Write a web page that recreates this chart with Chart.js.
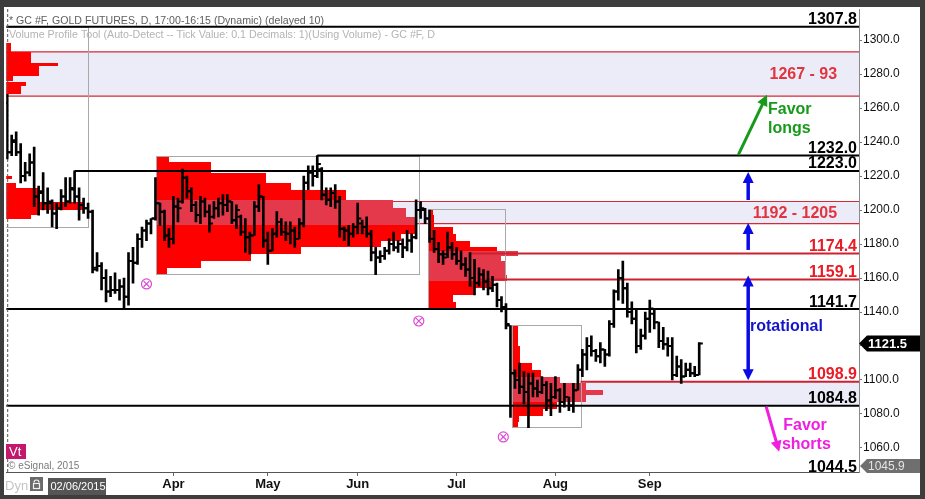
<!DOCTYPE html>
<html>
<head>
<meta charset="utf-8">
<script src="https://cdn.jsdelivr.net/npm/chart.js@4.4.1/dist/chart.umd.min.js"></script>
<style>
  html, body { margin: 0; padding: 0; background: #3d3d3d; }
  canvas { display: block; }
</style>
</head>
<body>
<canvas id="goldChart" width="925" height="499"></canvas>
<script>
// daily bars, Feb 6 - Sep 16 2015 (index 0 = Feb 6)
const opens = [
  1263,1234,1240,1234,1220,1222,1228,1208,1210,1204,
  1204,1198,1201,1208,1205,1212,1208,1203,1201,1199,
  1166,1167,1160,1152,1153,1153,1155,1149,1170,1169,
  1183,1188,1192,1195,1204,1199,1185,1183,1202,1205,
  1219,1211,1203,1197,1205,1199,1196,1201,1204,1203,
  1205,1194,1196,1187,1184,1185,1202,1208,1182,1176,
  1186,1193,1187,1186,1188,1183,1192,1216,1222,1220,
  1224,1209,1206,1210,1205,1189,1188,1186,1190,1192,
  1190,1186,1175,1172,1173,1176,1180,1178,1180,1178,
  1182,1184,1200,1200,1195,1183,1177,1174,1174,1178,
  1174,1170,1168,1165,1160,1157,1162,1158,1154,1156,
  1147,1143,1132,1104,1100,1096,1093,1098,1095,1093,
  1097,1088,1090,1094,1087,1090,1085,1094,1106,1115,
  1120,1117,1114,1118,1115,1133,1152,1160,1154,1140,
  1136,1120,1126,1136,1139,1134,1123,1121,1120,1103,
  1108,1102,1106,1104,1103
];
const highs = [
  1268,1244,1246,1239,1228,1233,1237,1214,1222,1213,
  1206,1204,1212,1219,1219,1223,1213,1207,1204,1200,
  1175,1169,1165,1161,1163,1159,1160,1175,1178,1186,
  1190,1194,1195,1219,1204,1200,1189,1208,1207,1224,
  1220,1213,1205,1208,1207,1203,1205,1207,1209,1209,
  1205,1203,1197,1195,1187,1205,1215,1208,1187,1189,
  1199,1195,1193,1193,1190,1195,1220,1226,1226,1232,
  1225,1213,1213,1215,1208,1190,1191,1192,1204,1194,
  1196,1188,1178,1176,1178,1183,1187,1182,1183,1188,
  1186,1206,1205,1201,1200,1188,1181,1176,1187,1181,
  1178,1176,1172,1175,1171,1166,1165,1164,1161,1157,
  1149,1145,1132,1106,1110,1105,1104,1104,1100,1102,
  1099,1098,1102,1095,1098,1090,1098,1109,1118,1125,
  1126,1118,1122,1118,1135,1153,1165,1170,1157,1146,
  1141,1130,1140,1147,1141,1134,1131,1125,1125,1114,
  1112,1110,1110,1108,1122
];
const lows = [
  1230,1232,1232,1216,1217,1220,1202,1197,1200,1198,
  1190,1189,1200,1202,1204,1204,1194,1198,1195,1163,
  1164,1153,1146,1149,1151,1147,1142,1144,1157,1168,
  1178,1182,1186,1194,1191,1182,1178,1180,1193,1204,
  1207,1199,1193,1192,1196,1187,1195,1196,1197,1199,
  1192,1189,1185,1175,1174,1185,1199,1178,1168,1176,
  1184,1185,1182,1180,1178,1183,1190,1212,1214,1219,
  1206,1203,1202,1201,1184,1182,1179,1184,1186,1186,
  1184,1170,1162,1169,1171,1174,1176,1175,1172,1176,
  1175,1183,1195,1192,1181,1175,1169,1168,1172,1171,
  1168,1165,1161,1155,1150,1155,1153,1150,1152,1143,
  1140,1130,1078,1095,1092,1086,1072,1090,1090,1092,
  1082,1079,1089,1081,1084,1082,1081,1094,1102,1106,
  1114,1111,1110,1108,1114,1131,1147,1145,1137,1133,
  1116,1118,1124,1128,1130,1119,1118,1114,1100,1102,
  1098,1102,1102,1102,1103
];
const closes = [
  1234,1241,1234,1220,1222,1228,1208,1211,1204,1205,
  1198,1201,1208,1205,1213,1208,1203,1201,1199,1165,
  1167,1160,1152,1153,1153,1155,1149,1170,1169,1183,
  1188,1192,1195,1204,1199,1185,1183,1202,1201,1219,
  1211,1203,1197,1205,1199,1192,1201,1204,1203,1205,
  1194,1200,1187,1184,1185,1202,1208,1182,1176,1186,
  1193,1187,1186,1188,1183,1192,1216,1222,1220,1227,
  1209,1206,1210,1205,1189,1188,1186,1190,1195,1190,
  1186,1175,1172,1173,1176,1180,1178,1180,1178,1182,
  1184,1200,1201,1195,1183,1177,1174,1172,1178,1174,
  1170,1168,1165,1160,1157,1162,1158,1154,1156,1147,
  1143,1133,1104,1100,1096,1093,1098,1095,1093,1097,
  1088,1085,1094,1087,1090,1085,1094,1106,1115,1120,
  1117,1114,1118,1115,1133,1152,1160,1154,1140,1136,
  1120,1126,1136,1142,1134,1123,1121,1120,1103,1108,
  1102,1106,1104,1103,1121.5
];

const monthTicks = [37, 58, 78, 100, 122, 143];
const monthLabels = ['Apr', 'May', 'Jun', 'Jul', 'Aug', 'Sep'];
const priceTicks = [1060, 1080, 1100, 1120, 1140, 1160, 1180, 1200, 1220, 1240, 1260, 1280, 1300];

// key levels: black lines, red lines, shaded zones (start = bar index where they begin)
const blackLevels = [1307.8, 1232.0, 1223.0, 1141.7, 1084.8];
const blackStarts = [-5, 69, 15, -5, -5];
const redLevels = [1174.4, 1159.1, 1098.9];
const redStarts = [103, 105, 127.6];
const zoneLows = [1267, 1192, 1084.8];
const zoneHighs = [1293, 1205, 1098.9];
const zoneStarts = [-5, 33.1, 127.6];
const zoneNames = ['1267 - 93', '1192 - 1205', ''];

// volume profiles: [price low, price high, right end (bar index), value area flag]
const profFebRows = [
  [1293, 1298, 0.9, 0], [1286.5, 1293, 5.3, 0], [1285, 1286.5, 11.3, 0], [1279, 1285, 7.1, 0],
  [1276, 1279, 1.3, 0], [1273, 1275.5, 4.2, 0], [1268, 1273, 3.1, 0], [1218.5, 1220, 1.1, 0],
  [1213, 1216, 2, 0], [1205, 1213, 6.9, 0], [1200, 1205, 17.1, 0], [1197, 1200, 6.9, 0], [1195, 1197, 5.3, 0]
];
const profAprRows = [
  [1228, 1232, 36, 0], [1222, 1228, 45.3, 0], [1216, 1222, 57.6, 0], [1212, 1216, 63.1, 0],
  [1206, 1212, 75.3, 0], [1201, 1206, 85.8, 1], [1196, 1201, 88.7, 1], [1191, 1196, 90.9, 1],
  [1186, 1191, 91.3, 0], [1182, 1186, 87.6, 0], [1178, 1182, 83.1, 0], [1174, 1178, 65.3, 0],
  [1170, 1174, 54.2, 0], [1166, 1170, 43.1, 0], [1162.4, 1166, 35.6, 0]
];
const profJulRows = [
  [1197, 1200.6, 94.7, 0], [1190, 1197, 95.0, 0], [1186, 1190, 99.1, 0], [1182, 1186, 99.8, 0],
  [1178, 1182, 103.1, 0], [1176, 1178, 109.1, 0], [1173, 1176, 113.6, 1], [1170, 1173, 109.8, 1],
  [1166, 1170, 110.9, 1], [1162, 1166, 110.9, 1], [1158, 1162, 111.3, 1], [1154, 1158, 107.6, 0],
  [1150, 1154, 104.2, 0], [1146, 1150, 99.3, 0], [1141.7, 1146, 99.8, 0]
];
const profAugRows = [
  [1120, 1132.4, 113.6, 0], [1110, 1120, 114.2, 0], [1106, 1110, 116.9, 0], [1102, 1106, 118.7, 0],
  [1098, 1102, 123.1, 1], [1094, 1098, 128.7, 1], [1091, 1094, 132.7, 1], [1087, 1091, 128.7, 1],
  [1083, 1087, 122.4, 0], [1079, 1083, 119.3, 0], [1075, 1079, 113.8, 0], [1072.4, 1075, 113.6, 0]
];
// [anchor index, box end index, box low, box high]
const profBoxes = [
  [-30, 18, 1190, 1307.8],
  [33.1, 91.6, 1162.4, 1232],
  [93.6, 110.7, 1141.7, 1200.6],
  [112.4, 127.8, 1072.4, 1132.4]
];
const profRows = [profFebRows, profAprRows, profJulRows, profAugRows];

const markerIdx = [31.0, 91.6, 110.4];
const markerPrice = [1156.5, 1134.7, 1066.5];

Chart.defaults.font.family = '"Liberation Sans", Arial, sans-serif';

function arrow(ctx, x1, y1, x2, y2, color, w, head, both) {
  const ang = Math.atan2(y2 - y1, x2 - x1);
  const c = Math.cos(ang), s = Math.sin(ang);
  ctx.strokeStyle = color;
  ctx.fillStyle = color;
  ctx.lineWidth = w;
  ctx.beginPath();
  ctx.moveTo(x1 + (both ? c * head * 0.8 : 0), y1 + (both ? s * head * 0.8 : 0));
  ctx.lineTo(x2 - c * head * 0.8, y2 - s * head * 0.8);
  ctx.stroke();
  const tip = (tx, ty, dc, ds) => {
    ctx.beginPath();
    ctx.moveTo(tx, ty);
    ctx.lineTo(tx - head * dc + head * 0.5 * ds, ty - head * ds - head * 0.5 * dc);
    ctx.lineTo(tx - head * dc - head * 0.5 * ds, ty - head * ds + head * 0.5 * dc);
    ctx.closePath();
    ctx.fill();
  };
  tip(x2, y2, c, s);
  if (both) tip(x1, y1, -c, -s);
}

const overlay = {
  id: 'overlay',
  beforeDraw(chart) {
    const { ctx } = chart;
    ctx.save();
    ctx.fillStyle = '#3d3d3d';
    ctx.fillRect(0, 0, chart.width, chart.height);
    ctx.fillStyle = '#ffffff';
    ctx.fillRect(4, 7, 916, 488);
    ctx.restore();
  },
  beforeDatasetsDraw(chart) {
    const { ctx, chartArea: a, scales: { x, y } } = chart;
    ctx.save();
    ctx.beginPath();
    ctx.rect(a.left, a.top, a.right - a.left, a.bottom - a.top);
    ctx.clip();

    // shaded zones
    zoneLows.forEach((lo, i) => {
      const x0 = Math.max(a.left, x.getPixelForValue(zoneStarts[i]));
      const yt = y.getPixelForValue(zoneHighs[i]), yb = y.getPixelForValue(lo);
      ctx.fillStyle = '#ececf9';
      ctx.fillRect(x0, yt, a.right - x0, yb - yt);
      if (i < 2) {
        ctx.strokeStyle = '#d22a38';
        ctx.lineWidth = 1.2;
        ctx.beginPath();
        ctx.moveTo(x0, yt); ctx.lineTo(a.right, yt);
        ctx.moveTo(x0, yb); ctx.lineTo(a.right, yb);
        ctx.stroke();
      }
    });

    // volume profiles
    profBoxes.forEach(([anchor, boxEnd, boxLo, boxHi], k) => {
      const left = Math.round(x.getPixelForValue(anchor));
      profRows[k].forEach(([lo, hi, end, va]) => {
        const t = Math.round(y.getPixelForValue(hi)), b = Math.round(y.getPixelForValue(lo));
        ctx.fillStyle = va ? '#e4394b' : '#ff0000';
        ctx.fillRect(left, t, Math.round(x.getPixelForValue(end)) - left, b - t);
      });
      ctx.strokeStyle = '#a8a8a8';
      ctx.lineWidth = 1;
      const bt = y.getPixelForValue(boxHi), bb = y.getPixelForValue(boxLo);
      ctx.strokeRect(left + 0.5, Math.round(bt) + 0.5,
        Math.round(x.getPixelForValue(boxEnd)) - left, Math.round(bb - bt));
    });

    // red level lines
    redLevels.forEach((v, i) => {
      const yy = y.getPixelForValue(v);
      ctx.strokeStyle = '#cc2230';
      ctx.lineWidth = 2;
      ctx.beginPath();
      ctx.moveTo(x.getPixelForValue(redStarts[i]), yy);
      ctx.lineTo(a.right, yy);
      ctx.stroke();
    });
    // black level lines
    blackLevels.forEach((v, i) => {
      const yy = y.getPixelForValue(v);
      ctx.strokeStyle = '#000';
      ctx.lineWidth = 2;
      ctx.beginPath();
      ctx.moveTo(Math.max(a.left, x.getPixelForValue(blackStarts[i])), yy);
      ctx.lineTo(a.right, yy);
      ctx.stroke();
    });

    // cursor line
    ctx.strokeStyle = '#555';
    ctx.lineWidth = 1;
    ctx.setLineDash([3, 2]);
    ctx.beginPath();
    ctx.moveTo(a.left + 1.5, a.top);
    ctx.lineTo(a.left + 1.5, a.bottom);
    ctx.stroke();
    ctx.setLineDash([]);
    ctx.restore();
  },
  afterDatasetsDraw(chart) {
    const { ctx, chartArea: a, scales: { x, y } } = chart;
    ctx.save();

    // header
    ctx.textAlign = 'left';
    ctx.textBaseline = 'alphabetic';
    ctx.fillStyle = '#5e5e5e';
    ctx.font = '10.6px "Liberation Sans", Arial, sans-serif';
    ctx.fillText('* GC #F, GOLD FUTURES, D, 17:00-16:15 (Dynamic) (delayed 10)', 9, 24);
    ctx.fillStyle = '#b4b4b4';
    ctx.font = '10.7px "Liberation Sans", Arial, sans-serif';
    ctx.fillText('Volume Profile Tool (Auto-Detect -- Tick Value: 0.1 Decimals: 1)(Using Volume) - GC #F, D', 9, 38);

    // level labels on the right edge
    ctx.textAlign = 'right';
    ctx.font = 'bold 16px "Liberation Sans", Arial, sans-serif';
    blackLevels.concat([1044.5]).forEach(v => {
      ctx.fillStyle = '#000';
      ctx.fillText(v.toFixed(1), a.right - 2, y.getPixelForValue(v) - 2.5);
    });
    redLevels.forEach(v => {
      ctx.fillStyle = '#ea1b24';
      ctx.fillText(v.toFixed(1), a.right - 2, y.getPixelForValue(v) - 2.5);
    });
    ctx.textBaseline = 'middle';
    zoneNames.forEach((n, i) => {
      if (!n) return;
      ctx.fillStyle = '#e2343f';
      ctx.fillText(n, x.getPixelForValue(184.7), y.getPixelForValue((zoneLows[i] + zoneHighs[i]) / 2) + 1);
    });

    // arrows
    const ax = x.getPixelForValue(164.9);
    arrow(ctx, ax, y.getPixelForValue(1205.9), ax, y.getPixelForValue(1222.4), '#0a0ae6', 3.5, 11, false);
    arrow(ctx, ax, y.getPixelForValue(1176.5), ax, y.getPixelForValue(1192.4), '#0a0ae6', 3.5, 11, false);
    arrow(ctx, ax, y.getPixelForValue(1099.8), ax, y.getPixelForValue(1161.5), '#0a0ae6', 3.5, 11, true);
    arrow(ctx, x.getPixelForValue(162.7), y.getPixelForValue(1232.4), x.getPixelForValue(169.1), y.getPixelForValue(1267.8), '#169a1a', 3, 11, false);
    arrow(ctx, x.getPixelForValue(168.9), y.getPixelForValue(1084.3), x.getPixelForValue(171.8), y.getPixelForValue(1057.8), '#f01ee0', 3, 11, false);

    // notes
    ctx.textAlign = 'left';
    ctx.textBaseline = 'alphabetic';
    ctx.font = 'bold 16px "Liberation Sans", Arial, sans-serif';
    ctx.fillStyle = '#169a1a';
    ctx.fillText('Favor', x.getPixelForValue(169.3), y.getPixelForValue(1256.5));
    ctx.fillText('longs', x.getPixelForValue(169.3), y.getPixelForValue(1245.5));
    ctx.fillStyle = '#1414c8';
    ctx.fillText('rotational', x.getPixelForValue(165.3), y.getPixelForValue(1128.8));
    ctx.fillStyle = '#f01ee0';
    ctx.fillText('Favor', x.getPixelForValue(172.7), y.getPixelForValue(1070.6));
    ctx.fillText('shorts', x.getPixelForValue(172.4), y.getPixelForValue(1059.5));

    // study tag and copyright
    ctx.fillStyle = '#c2186e';
    ctx.fillRect(6, 444, 20, 15);
    ctx.fillStyle = '#fff';
    ctx.font = '13px "Liberation Sans", Arial, sans-serif';
    ctx.fillText('Vt', 9, 456);
    ctx.fillStyle = '#7a7a7a';
    ctx.font = '10px "Liberation Sans", Arial, sans-serif';
    ctx.fillText('\u00a9 eSignal, 2015', 8, 469);
    ctx.restore();
  },
  afterDraw(chart) {
    const { ctx, chartArea: a, scales: { y } } = chart;
    ctx.save();
    // last price tag
    const yl = y.getPixelForValue(closes[closes.length - 1]);
    ctx.fillStyle = '#000';
    ctx.beginPath();
    ctx.moveTo(a.right, yl);
    ctx.lineTo(a.right + 8, yl - 8);
    ctx.lineTo(920, yl - 8);
    ctx.lineTo(920, yl + 8);
    ctx.lineTo(a.right + 8, yl + 8);
    ctx.closePath();
    ctx.fill();
    ctx.fillStyle = '#fff';
    ctx.font = 'bold 13px "Liberation Sans", Arial, sans-serif';
    ctx.textBaseline = 'middle';
    ctx.textAlign = 'left';
    ctx.fillText(closes[closes.length - 1].toFixed(1), a.right + 9, yl + 1);
    // scale bottom tag
    const yb = a.bottom - 6;
    ctx.fillStyle = '#6f6f6f';
    ctx.beginPath();
    ctx.moveTo(a.right + 1, yb);
    ctx.lineTo(a.right + 8, yb - 7);
    ctx.lineTo(920, yb - 7);
    ctx.lineTo(920, yb + 7);
    ctx.lineTo(a.right + 8, yb + 7);
    ctx.closePath();
    ctx.fill();
    ctx.fillStyle = '#e4e4e4';
    ctx.font = '12px "Liberation Sans", Arial, sans-serif';
    ctx.fillText(y.min.toFixed(1), a.right + 9, yb + 1);

    // bottom-left status items
    ctx.fillStyle = '#c4c4c4';
    ctx.font = '13px "Liberation Sans", Arial, sans-serif';
    ctx.fillText('Dyn', 5, 486);
    ctx.fillStyle = '#6a6a6a';
    ctx.fillRect(30, 477, 13, 14);
    ctx.strokeStyle = '#eee';
    ctx.lineWidth = 1.2;
    ctx.strokeRect(33.5, 483.5, 6, 5);
    ctx.beginPath();
    ctx.arc(36.5, 482.5, 2.5, Math.PI, 0);
    ctx.stroke();
    ctx.fillStyle = '#555';
    ctx.fillRect(48, 478, 58, 17);
    ctx.fillStyle = '#fff';
    ctx.font = '11px "Liberation Sans", Arial, sans-serif';
    ctx.fillText('02/06/2015', 50.5, 487);
    ctx.restore();
  }
};

new Chart(document.getElementById('goldChart'), {
  type: 'bar',
  data: {
    datasets: [
      {
        type: 'bar',
        data: highs.map((h, i) => ({ x: i, y: [lows[i], h] })),
        backgroundColor: '#000',
        barThickness: 2,
        order: 3
      },
      {
        type: 'line',
        data: opens.map((o, i) => ({ x: i - 0.45, y: o })),
        showLine: false,
        pointStyle: 'line',
        pointRadius: 1.6,
        pointBorderWidth: 2,
        borderColor: '#000',
        pointBorderColor: '#000',
        order: 2
      },
      {
        type: 'line',
        data: closes.map((c, i) => ({ x: i + 0.45, y: c })),
        showLine: false,
        pointStyle: 'line',
        pointRadius: 1.6,
        pointBorderWidth: 2,
        borderColor: '#000',
        pointBorderColor: '#000',
        order: 2
      },
      {
        type: 'line',
        data: markerIdx.map((v, i) => ({ x: v, y: markerPrice[i] })),
        showLine: false,
        pointStyle: 'circle',
        pointRadius: 5,
        pointBorderWidth: 1.2,
        borderColor: '#dc4ad8',
        pointBorderColor: '#dc4ad8',
        pointBackgroundColor: 'rgba(0,0,0,0)',
        order: 1
      },
      {
        type: 'line',
        data: markerIdx.map((v, i) => ({ x: v, y: markerPrice[i] })),
        showLine: false,
        pointStyle: 'crossRot',
        pointRadius: 4,
        pointBorderWidth: 1.2,
        borderColor: '#dc4ad8',
        pointBorderColor: '#dc4ad8',
        order: 1
      }
    ]
  },
  options: {
    responsive: false,
    animation: false,
    events: [],
    layout: { padding: { left: 5, top: 9, right: 5, bottom: 4 } },
    plugins: { legend: { display: false }, tooltip: { enabled: false } },
    scales: {
      x: {
        type: 'linear',
        min: -0.22,
        max: 189.56,
        offset: false,
        afterBuildTicks: s => { s.ticks = monthTicks.map(v => ({ value: v })); },
        afterFit: s => { s.height = 23; },
        ticks: {
          autoSkip: false,
          maxRotation: 0,
          padding: 1,
          color: '#111',
          font: { size: 13, weight: 'bold' },
          callback: (v, i) => monthLabels[i]
        },
        grid: { offset: false, drawOnChartArea: false, tickLength: 4, color: '#666' },
        border: { color: '#555', dash: [4, 3] }
      },
      y: {
        position: 'right',
        min: 1045.88,
        max: 1318.24,
        afterBuildTicks: s => { s.ticks = priceTicks.map(v => ({ value: v })); },
        afterFit: s => { s.width = 61; },
        ticks: {
          padding: 1,
          color: '#111',
          font: { size: 12 },
          callback: v => v.toFixed(1)
        },
        grid: { drawOnChartArea: false, tickLength: 3, color: '#777' },
        border: { color: '#8a8a8a' }
      }
    }
  },
  plugins: [overlay]
});
</script>
</body>
</html>
